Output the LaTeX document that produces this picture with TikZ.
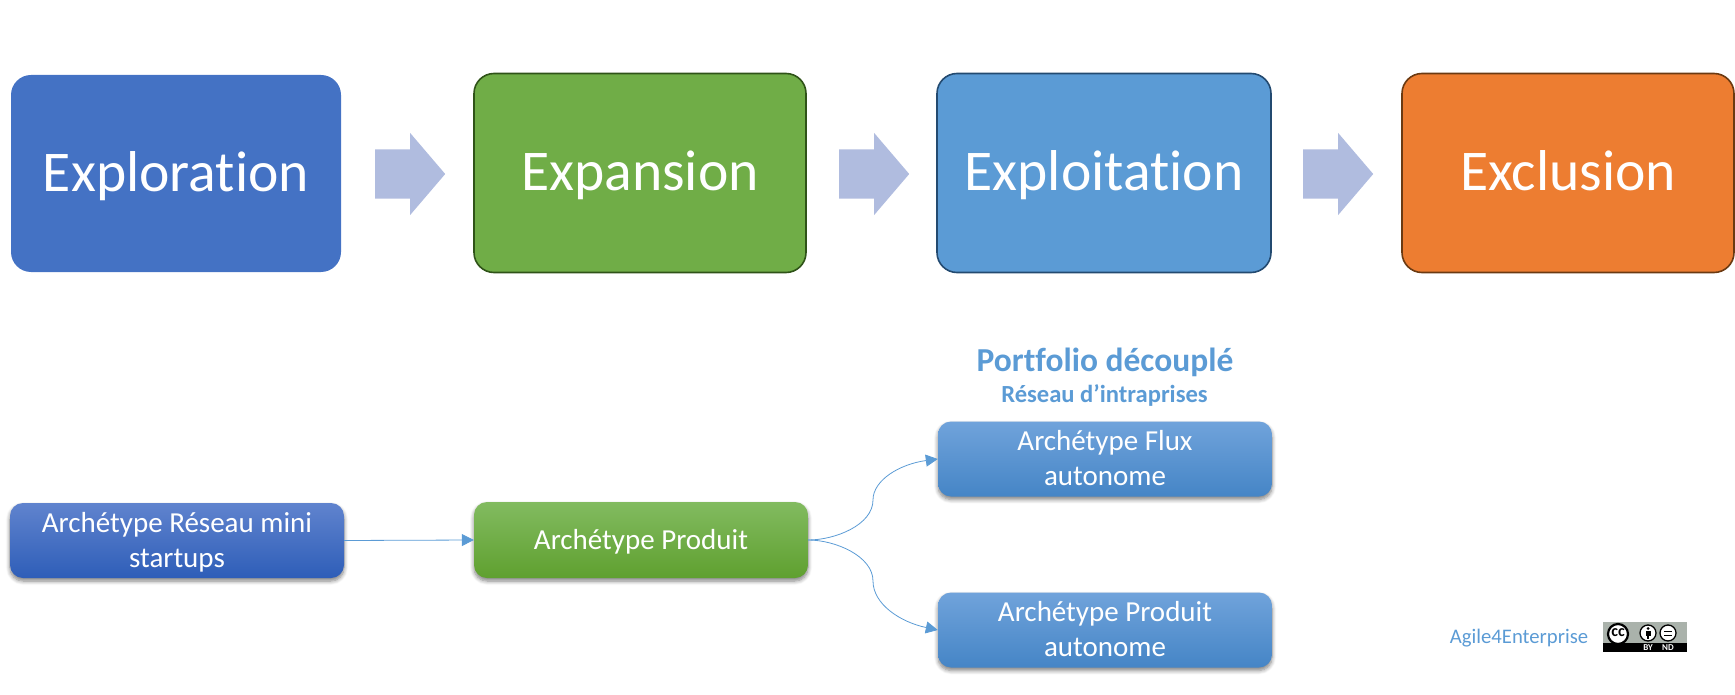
\documentclass[tikz,border=0pt]{standalone}
\usepackage{fontspec}
\setmainfont[Ligatures=NoCommon,RawFeature={-liga;-clig;-dlig}]{Carlito}
\usetikzlibrary{arrows.meta,shapes.arrows,shadows.blur}
\definecolor{cblue}{HTML}{4472C4}
\definecolor{cgreen}{HTML}{70AD47}
\definecolor{clight}{HTML}{5B9BD5}
\definecolor{corange}{HTML}{ED7D31}
\definecolor{carrow}{HTML}{B0BCDF}
\definecolor{edgegreen}{HTML}{2F5318}
\definecolor{edgeblue}{HTML}{234A70}
\definecolor{edgeorange}{HTML}{6B3A12}
\definecolor{cboxt}{HTML}{70A3DB}
\definecolor{cboxm}{HTML}{5296DA}
\definecolor{cboxb}{HTML}{4585C6}
\newcommand{\topstrut}{\rule{0pt}{26pt}}
\newcommand{\botstrut}{\rule[-8pt]{0pt}{8pt}}
\tikzset{
  x=1pt,y=-1pt,
  bigbox/.style={rounded corners=20pt,minimum width=332pt,minimum height=199pt,inner sep=0pt,text=white,
    font=\fontsize{57.6}{58}\selectfont,align=center,text height=46pt,text depth=10pt},
  smallbox/.style={rounded corners=13pt,minimum width=334pt,minimum height=75pt,inner sep=0pt,text=white,
    font=\fontsize{29}{35}\selectfont,align=center,
    blur shadow={shadow xshift=0pt,shadow yshift=-3pt,shadow blur radius=4pt,shadow blur steps=6,shadow opacity=50}},
  bluebox/.style={smallbox,top color=cboxt,middle color=cboxm,bottom color=cboxb},
  blockarrow/.style={single arrow,fill=carrow,draw=none,anchor=tail,inner sep=0pt,minimum height=70pt,
    single arrow head extend=16.5pt,single arrow tip angle=99,single arrow head indent=0pt,text width=0pt,text height=49pt,text depth=0pt},
  link/.style={draw=clight,line width=0.8pt,-{Triangle[length=12pt,width=12pt,fill=clight]}},
  headtext/.style={text=clight,inner sep=0pt},
  ccring/.style={circle,draw=black,fill=white,inner sep=0pt},
  cctag/.style={text=white,inner sep=0pt,font=\bfseries\fontsize{9}{9}\selectfont}
}
\begin{document}
\begin{tikzpicture}
\useasboundingbox (0,0) rectangle (1735,695);
% top row
\node[bigbox,fill=cblue,minimum width=330pt,minimum height=197pt] (exploration) at (176,173.5) {Exploration};
\node[bigbox,fill=cgreen,draw=edgegreen,line width=1.6pt] (expansion) at (640,173) {Expansion};
\node[bigbox,fill=clight,draw=edgeblue,line width=1.6pt,minimum width=334pt] (exploitation) at (1104,173) {Exploitation};
\node[bigbox,fill=corange,draw=edgeorange,line width=1.6pt] (exclusion) at (1568,173) {Exclusion};
\node[blockarrow] (a1) at (375,174) {};
\node[blockarrow] (a2) at (839,174) {};
\node[blockarrow] (a3) at (1303,174) {};
% headings
\node[headtext,font=\bfseries\fontsize{33.5}{33.5}\selectfont] (portfolio) at (1105,362) {Portfolio découplé};
\node[headtext,font=\bfseries\fontsize{24.6}{24.6}\selectfont] (reseau) at (1104.5,395) {Réseau d’intraprises};
% lower boxes
\node[smallbox,top color={rgb,255:red,96;green,131;blue,206},middle color={rgb,255:red,66;green,113;blue,200},bottom color={rgb,255:red,46;green,94;blue,184}] (mini) at (177,540.5) {\topstrut Archétype Réseau mini\\startups\botstrut};
\node[smallbox,minimum height=76pt,top color={rgb,255:red,130;green,187;blue,96},middle color={rgb,255:red,112;green,176;blue,64},bottom color={rgb,255:red,95;green,160;blue,47}] (produit) at (641,540) {\topstrut Archétype Produit\botstrut};
\node[bluebox] (flux) at (1105,459) {\topstrut Archétype Flux\\autonome\botstrut};
\node[bluebox] (pauto) at (1105,630) {\topstrut Archétype Produit\\autonome\botstrut};
% connectors
\coordinate (midup) at (873,500);
\coordinate (middown) at (873,581);
\draw[link] (mini.east) -- (produit.west);
\draw[link] (produit.east) .. controls (835,540) and (873,525) .. (midup) .. controls (873,480) and (900,464) .. (flux.west);
\draw[link] (produit.east) .. controls (835,540) and (873,556) .. (middown) .. controls (873,604) and (900,622) .. (pauto.west);
% credit
\node[text=clight,inner sep=0pt,font=\fontsize{20.7}{20.7}\selectfont] (agile) at (1519,638) {Agile4Enterprise};
% licence badge
\node[fill=black,minimum width=84pt,minimum height=30pt,inner sep=0pt] (badge) at (1645,637) {};
\fill[fill={rgb,255:red,170;green,178;blue,171}] (1603,622) rectangle (1687,643);
\draw[line width=2.2pt,fill=white,draw=black] (1618,634) circle (10);
\node[inner sep=0pt,font=\bfseries\fontsize{16}{16}\selectfont] (cc) at (1618,632.5) {cc};
\node[ccring,minimum size=16pt,line width=1.3pt] (by) at (1648,633) {};
\node[ccring,minimum size=16pt,line width=1.3pt] (nd) at (1668,633) {};
\fill (1648,628.5) circle (1.5);
\fill (1645.5,631) rectangle (1650.5,635.5);
\fill (1646.6,635) rectangle (1649.4,638.5);
\fill (1664,630.5) rectangle (1672,632);
\fill (1664,634.5) rectangle (1672,636);
\node[cctag] (bytag) at (1648,648) {BY};
\node[cctag] (ndtag) at (1668,648) {ND};
\end{tikzpicture}
\end{document}
